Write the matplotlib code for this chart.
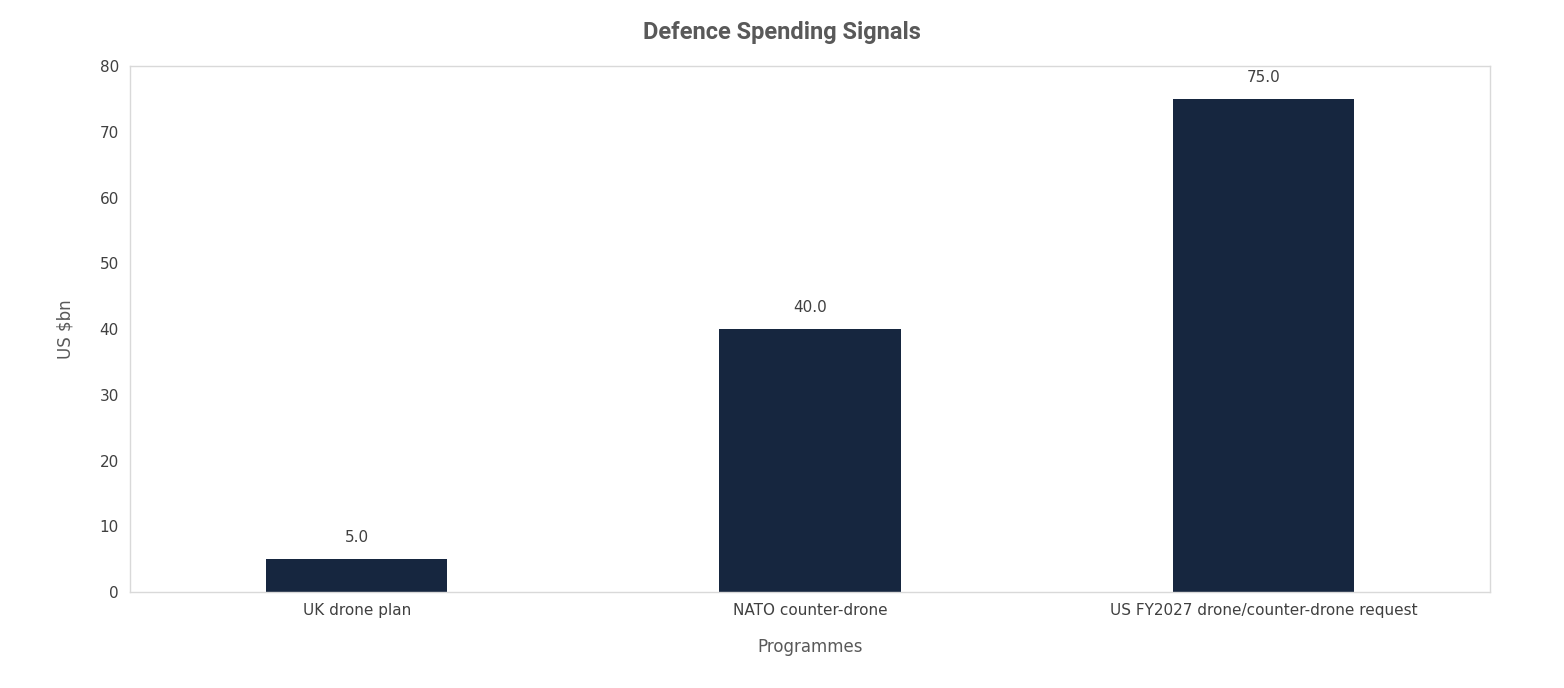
import matplotlib
matplotlib.use("Agg")
import matplotlib.pyplot as plt

# chart data
programmes = ["UK drone plan", "NATO counter-drone",
              "US FY2027 drone/counter-drone request"]
spend_bn = [5.0, 40.0, 75.0]
yticks = [0, 10, 20, 30, 40, 50, 60, 70, 80]

bar_color = "#16263f"
text_color = "#595959"

fig = plt.figure(figsize=[15.64, 6.88], dpi=100)
ax = fig.add_axes([0.0831, 0.1395, 0.8696, 0.7645])

x = range(len(programmes))
bars = ax.bar(x, spend_bn, 0.4, color=bar_color)
for rect, val in zip(bars, spend_bn):
    ax.annotate("%.1f" % val, (rect.get_x() + rect.get_width() / 2, val),
                xytext=(0, 10), textcoords="offset points",
                ha="center", va="bottom", fontsize=11, color="#404040")

ax.set_xlim(-0.5, len(programmes) - 0.5)
ax.set_ylim(0, 80)
ax.set_yticks(yticks)
ax.set_xticks(list(x))
ax.set_xticklabels(programmes)
ax.tick_params(length=0, labelsize=11, colors="#404040", pad=8)

for s in ax.spines.values():
    s.set_color("#d9d9d9")
    s.set_linewidth(1)

ax.set_xlabel("Programmes", fontsize=12, color=text_color, labelpad=14)
ax.set_ylabel("US $bn", fontsize=12, color=text_color, labelpad=18)
fig.text(0.5, 0.953, "Defence Spending Signals", ha="center", va="center",
         fontsize=17, fontweight="bold", color=text_color, family="Roboto")

fig.savefig("out.png", dpi=100, facecolor="white")
